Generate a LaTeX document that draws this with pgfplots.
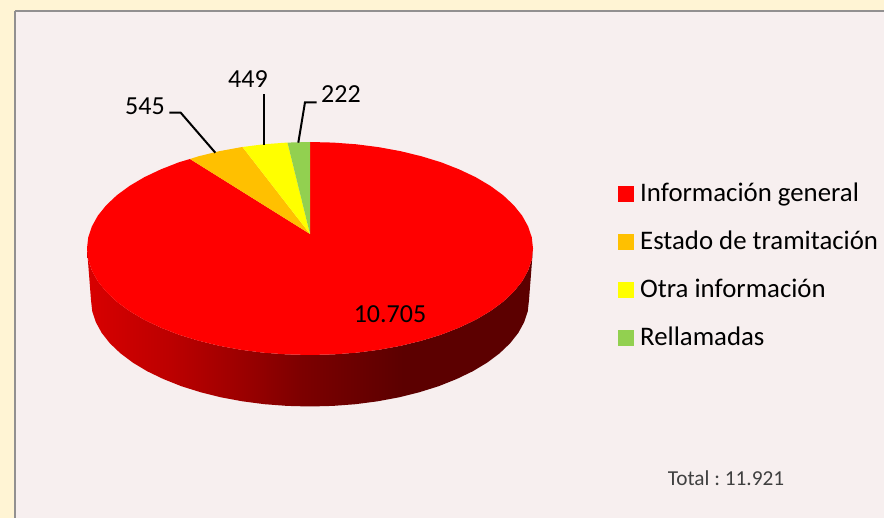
\documentclass[border=0pt]{standalone}
\usepackage{fontspec}
\setmainfont{Carlito}
\usepackage{pgfplots}
\pgfplotsset{compat=1.18}
\definecolor{outer}{HTML}{FFF4D4}
\definecolor{panel}{HTML}{F7EFEF}
\definecolor{frame}{HTML}{929090}
\definecolor{cgen}{HTML}{FF0000}
\definecolor{cest}{HTML}{FFC000}
\definecolor{cotr}{HTML}{FFFF00}
\definecolor{cret}{HTML}{92D050}
\definecolor{totaltxt}{HTML}{404040}
\definecolor{s1}{HTML}{D80000}
\definecolor{s2}{HTML}{BC0000}
\definecolor{s3}{HTML}{9E0000}
\definecolor{s4}{HTML}{7C0000}
\definecolor{s5}{HTML}{660000}
\definecolor{s6}{HTML}{5C0000}
\pgfdeclarehorizontalshading{sidewall}{100bp}{
 color(0bp)=(s1); color(25bp)=(s1); color(34.3bp)=(s2); color(41.8bp)=(s3);
 color(49.2bp)=(s4); color(56.7bp)=(s5); color(60.4bp)=(s6); color(100bp)=(s6)}
\begin{document}
\begin{tikzpicture}
\begin{axis}[scale only axis,width=884pt,height=518pt,xmin=0,xmax=884,ymin=0,ymax=518,y dir=reverse,
 axis lines=none,clip=true,
 legend style={at={(axis cs:618,181)},anchor=north west,draw=none,fill=none,font=\fontsize{26.8}{30}\selectfont,
  row sep=24pt,inner sep=0pt},legend cell align=left]
% background
\addplot[fill=outer,draw=none,forget plot] coordinates {(0,0)(884,0)(884,518)(0,518)};
\addplot[fill=panel,draw=frame,line width=2.7pt,forget plot] coordinates {(15,11)(890,11)(890,525)(15,525)(15,11)};
% side wall
\addplot[shade,shading=sidewall,draw=none,forget plot] coordinates {
(87,248.5)(88.2,259.6)(91.9,270.6)(97.9,281.4)(106.3,291.8)(116.9,301.8)(129.6,311.1)(144.3,319.8)(160.8,327.6)(178.9,334.7)(198.5,340.7)(219.3,345.8)(241.1,349.8)(263.6,352.7)(286.7,354.4)(310,355)
(333.3,354.4)(356.4,352.7)(378.9,349.8)(400.7,345.8)(421.5,340.7)(441.1,334.7)(459.2,327.6)(475.7,319.8)(490.4,311.1)(503.1,301.8)(513.7,291.8)(522.1,281.4)(528.1,270.6)(531.8,259.6)(533,248.5)
(529,300)(527.8,311.1)(524.2,322.1)(518.3,332.9)(510.1,343.3)(499.6,353.3)(487.2,362.6)(472.7,371.3)(456.5,379.1)(438.7,386.2)(419.5,392.2)(399.1,397.3)(377.7,401.3)(355.5,404.2)(332.9,405.9)(310,406.5)
(287.1,405.9)(264.5,404.2)(242.3,401.3)(220.9,397.3)(200.5,392.2)(181.3,386.2)(163.5,379.1)(147.3,371.3)(132.8,362.6)(120.4,353.3)(109.9,343.3)(101.7,332.9)(95.8,322.1)(92.2,311.1)(91,300)};
% top face: Informacion general 10705
\addplot[fill=cgen,draw=none,forget plot] coordinates {
(310,234)(310,142)(333.3,142.6)(356.4,144.3)(378.9,147.2)(400.7,151.2)(421.5,156.3)(441.1,162.3)(459.2,169.4)(475.7,177.2)(490.4,185.9)(503.1,195.2)(513.7,205.2)(522.1,215.6)(528.1,226.4)(531.8,237.4)(533,248.5)
(531.8,259.6)(528.1,270.6)(522.1,281.4)(513.7,291.8)(503.1,301.8)(490.4,311.1)(475.7,319.8)(459.2,327.6)(441.1,334.7)(421.5,340.7)(400.7,345.8)(378.9,349.8)(356.4,352.7)(333.3,354.4)(310,355)
(286.7,354.4)(263.6,352.7)(241.1,349.8)(219.3,345.8)(198.5,340.7)(178.9,334.7)(160.8,327.6)(144.3,319.8)(129.6,311.1)(116.9,301.8)(106.3,291.8)(97.9,281.4)(91.9,270.6)(88.2,259.6)(87,248.5)
(88.2,237.4)(91.9,226.4)(97.9,215.6)(106.3,205.2)(116.9,195.2)(129.6,185.9)(144.3,177.2)(160.8,169.4)(178.9,162.3)(190,159)};
% Estado de tramitacion 545
\addplot[fill=cest,draw=none,forget plot] coordinates {(310,234)(190,159)(198.5,156.3)(219.3,151.2)(241.1,147.2)(242.5,147)};
% Otra informacion 449
\addplot[fill=cotr,draw=none,forget plot] coordinates {(310,234)(242.5,147)(263.6,144.3)(286.7,142.6)(287.5,142.6)};
% Rellamadas 222
\addplot[fill=cret,draw=none,forget plot] coordinates {(310,234)(287.5,142.6)(310,142)};
% leader lines
\addplot[black,line width=2pt,forget plot] coordinates {(169.3,112.7)(180.7,112.7)(215.3,152.7)};
\addplot[black,line width=2pt,forget plot] coordinates {(264,94.3)(264,145)};
\addplot[black,line width=2pt,forget plot] coordinates {(316.7,102.3)(305,102.3)(298.3,142.7)};
\node[font=\fontsize{26}{30}\selectfont] at (axis cs:145,106.5) {545};
\node[font=\fontsize{26}{30}\selectfont] at (axis cs:248,79.5) {449};
\node[font=\fontsize{26}{30}\selectfont] at (axis cs:341,94.5) {222};
\node[font=\fontsize{26}{30}\selectfont] at (axis cs:390,314) {10.705};
\node[font=\fontsize{21.3}{25}\selectfont\frenchspacing,text=totaltxt] at (axis cs:726,478) {Total : 11.921};
\addlegendimage{only marks,mark=square*,mark size=7.5pt,color=cgen}
\addlegendentry{\hspace{5pt}Información general}
\addlegendimage{only marks,mark=square*,mark size=7.5pt,color=cest}
\addlegendentry{\hspace{5pt}Estado de tramitación}
\addlegendimage{only marks,mark=square*,mark size=7.5pt,color=cotr}
\addlegendentry{\hspace{5pt}Otra información}
\addlegendimage{only marks,mark=square*,mark size=7.5pt,color=cret}
\addlegendentry{\hspace{5pt}Rellamadas}
\end{axis}
\end{tikzpicture}
\end{document}
